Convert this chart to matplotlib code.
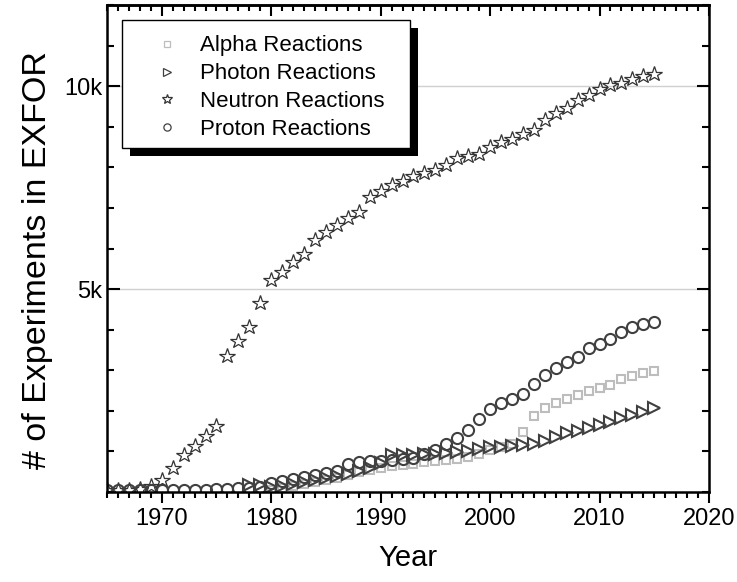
import numpy as np
import matplotlib
matplotlib.use("Agg")
import matplotlib.pyplot as plt
from matplotlib.ticker import MultipleLocator, FixedLocator, FuncFormatter
from matplotlib.patches import Rectangle

plt.rcParams['font.family'] = ['Liberation Sans', 'DejaVu Sans']

# data
years = np.arange(1965, 2016)

neutron = [40, 50, 60, 80, 150, 300, 590, 910, 1140, 1380,
           1625, 3360, 3720, 4070, 4650, 5220, 5430, 5680, 5870, 6200,
           6410, 6580, 6740, 6890, 7260, 7420, 7560, 7660, 7780, 7870,
           7930, 8050, 8220, 8280, 8340, 8490, 8630, 8710, 8820, 8930,
           9160, 9330, 9470, 9650, 9790, 9940, 10020, 10090, 10170, 10250,
           10300]

proton = [40, 45, 45, 50, 50, 55, 55, 60, 60, 60,
          65, 70, 90, 110, 130, 210, 270, 310, 375, 420,
          475, 520, 690, 730, 770, 770, 800, 820, 840, 930,
          1034, 1174, 1337, 1527, 1790, 2037, 2185, 2290, 2406, 2660,
          2880, 3047, 3195, 3333, 3540, 3645, 3760, 3950, 4056, 4138,
          4195]

photon_years = np.arange(1978, 2016)
photon = [170, 180, 120, 150, 200, 255, 300, 340, 395, 445,
          520, 585, 710, 900, 920, 915, 925, 935, 953, 985,
          1017, 1059, 1100, 1116, 1140, 1158, 1182, 1264, 1347, 1445,
          1502, 1584, 1650, 1733, 1815, 1897, 1978, 2077]

alpha_years = np.arange(1980, 2016)
alpha = [60, 100, 150, 200, 250, 300, 350, 420, 500, 550,
         600, 640, 670, 700, 730, 760, 790, 815, 855, 935,
         1030, 1115, 1180, 1490, 1872, 2061, 2185, 2283, 2390, 2495,
         2570, 2635, 2783, 2857, 2940, 2980]

fig = plt.figure(figsize=(7.37, 5.82), dpi=100)
fig.patch.set_facecolor('white')
ax = fig.add_axes([0.1452, 0.1546, 0.8168, 0.8368])

ax.axhline(5000, color='#d0d0d0', lw=1, zorder=0)
ax.axhline(10000, color='#d0d0d0', lw=1, zorder=0)

ax.plot(alpha_years, alpha, 's', ms=6, mfc='none', mec='#bdbdbd', mew=1.5,
        label='Alpha Reactions')
ax.plot(photon_years, photon, '>', ms=9, mfc='none', mec='#404040', mew=1.5,
        label='Photon Reactions')
ax.plot(years, neutron, '*', ms=11.5, mfc='none', mec='#333333', mew=0.9,
        label='Neutron Reactions')
ax.plot(years, proton, 'o', ms=8, mfc='none', mec='#404040', mew=1.5,
        label='Proton Reactions')

ax.set_xlim(1965, 2020)
ax.set_ylim(0, 12000)

ax.xaxis.set_major_locator(FixedLocator([1970, 1980, 1990, 2000, 2010, 2020]))
ax.xaxis.set_minor_locator(MultipleLocator(1))
ax.yaxis.set_major_locator(FixedLocator([5000, 10000]))
ax.yaxis.set_minor_locator(MultipleLocator(1000))
ax.yaxis.set_major_formatter(FuncFormatter(lambda v, p: '%dk' % (v / 1000)))

ax.tick_params(axis='x', which='both', direction='out', top=False,
               labelsize=17, width=1.5)
ax.tick_params(axis='x', which='major', length=8)
ax.tick_params(axis='x', which='minor', length=4)
ax.tick_params(axis='y', which='both', direction='in', right=True,
               labelsize=17, width=1.5)
ax.tick_params(axis='y', which='major', length=9)
ax.tick_params(axis='y', which='minor', length=5)

# inward ticks along the top edge
top = ax.secondary_xaxis('top')
top.xaxis.set_major_locator(FixedLocator([1970, 1980, 1990, 2000, 2010, 2020]))
top.xaxis.set_minor_locator(MultipleLocator(1))
top.tick_params(which='both', direction='in', labeltop=False, width=1.5)
top.tick_params(which='major', length=8)
top.tick_params(which='minor', length=4)
top.spines['top'].set_linewidth(1.8)

for s in ax.spines.values():
    s.set_linewidth(1.8)

ax.set_xlabel('Year', fontsize=21, labelpad=10)
ax.set_ylabel('# of Experiments in EXFOR', fontsize=24.5, labelpad=8)
ax.yaxis.label.set_y(0.476)

# legend entries without frame; the box and its shadow are drawn by hand
leg = ax.legend(loc='upper left', bbox_to_anchor=(0.044, 0.9374), fontsize=16,
                markerscale=0.65, handlelength=3.0, handletextpad=0.0,
                borderpad=0.0, labelspacing=0.31, frameon=False,
                borderaxespad=0)
leg.set_zorder(7)
for h in leg.legend_handles:
    h.set_markeredgewidth(0.9)

box = Rectangle((0.0249, 0.706), 0.4784, 0.263, transform=ax.transAxes,
                facecolor='white', edgecolor='black', lw=1.0, zorder=6,
                clip_on=False)
shadow = Rectangle((0.0249 + 8 / 602, 0.706 - 8 / 487), 0.4784, 0.263,
                   transform=ax.transAxes, facecolor='black',
                   edgecolor='none', zorder=5, clip_on=False)
ax.add_patch(shadow)
ax.add_patch(box)

fig.savefig('out.png', dpi=100)
